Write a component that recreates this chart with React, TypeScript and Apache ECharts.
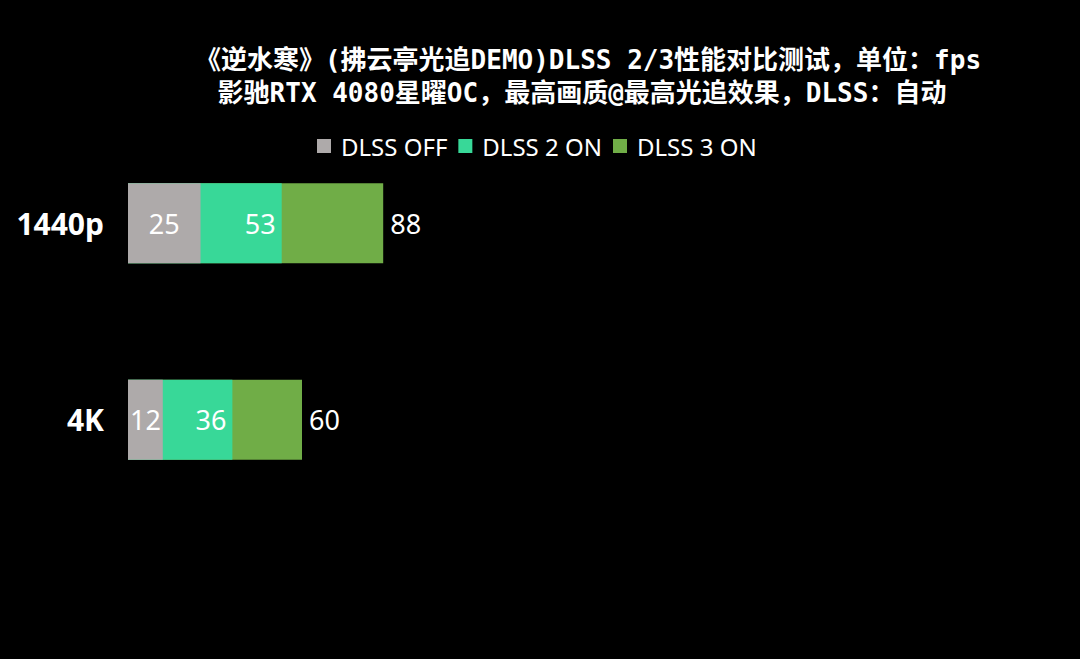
import React, { useEffect, useRef } from "react";
import * as echarts from "echarts";

const titleLine1 = "《逆水寒》(拂云亭光追DEMO)DLSS 2/3性能对比测试，单位：fps";
const titleLine2 = "影驰RTX 4080星曜OC，最高画质@最高光追效果，DLSS：自动";
const categories = ["1440p", "4K"];
const seriesNames = ["DLSS OFF", "DLSS 2 ON", "DLSS 3 ON"];
const dlssOff = [25, 12];
const dlss2 = [53, 36];
const dlss3 = [88, 60];
const colors = ["#AEAAAA", "#38D898", "#70AD47"];

export default function App() {
  const ref = useRef<HTMLDivElement>(null);
  useEffect(() => {
    document.body.style.margin = "0";
    document.body.style.background = "#000";
    const chart = echarts.init(ref.current!, undefined, { renderer: "svg" });
    const titleFont = "'DejaVu Sans Mono', 'Noto Sans CJK SC', sans-serif";
    const labelFont = "'Noto Sans', sans-serif";
    chart.setOption({
      animation: false,
      backgroundColor: "#000000",
      graphic: [
        {
          type: "text",
          x: 588,
          y: 60,
          style: {
            text: titleLine1,
            fill: "#ffffff",
            font: `bold 26px ${titleFont}`,
            textAlign: "center",
            textVerticalAlign: "middle",
          },
        },
        {
          type: "text",
          x: 582,
          y: 93,
          style: {
            text: titleLine2,
            fill: "#ffffff",
            font: `bold 26px ${titleFont}`,
            textAlign: "center",
            textVerticalAlign: "middle",
          },
        },
      ],
      legend: {
        data: seriesNames,
        left: 312,
        top: 129,
        itemWidth: 14,
        itemHeight: 14,
        itemGap: 11,
        icon: "rect",
        textStyle: {
          color: "#ffffff",
          fontSize: 24,
          fontFamily: labelFont,
          padding: [0, 0, 0, 5],
        },
      },
      grid: { left: 128, right: 662, top: 125, bottom: 141 },
      xAxis: {
        type: "value",
        min: 0,
        max: 100,
        show: false,
      },
      yAxis: {
        type: "category",
        data: categories,
        inverse: true,
        axisLine: { show: false },
        axisTick: { show: false },
        axisLabel: {
          color: "#ffffff",
          fontSize: 30,
          fontWeight: "bold",
          fontFamily: labelFont,
          margin: 24,
        },
      },
      series: [
        {
          name: seriesNames[2],
          type: "bar",
          data: dlss3,
          barWidth: 80,
          barGap: "-100%",
          itemStyle: { color: colors[2] },
          label: {
            show: true,
            position: "right",
            distance: 7,
            color: "#ffffff",
            fontSize: 27,
            fontFamily: labelFont,
          },
        },
        {
          name: seriesNames[1],
          type: "bar",
          data: dlss2,
          barWidth: 80,
          barGap: "-100%",
          itemStyle: { color: colors[1] },
          label: {
            show: true,
            position: "insideRight",
            distance: 6,
            color: "#ffffff",
            fontSize: 27,
            fontFamily: labelFont,
          },
        },
        {
          name: seriesNames[0],
          type: "bar",
          data: dlssOff,
          barWidth: 80,
          barGap: "-100%",
          itemStyle: { color: colors[0] },
          label: {
            show: true,
            position: "inside",
            color: "#ffffff",
            fontSize: 27,
            fontFamily: labelFont,
          },
        },
      ],
    });
    return () => chart.dispose();
  }, []);
  return <div ref={ref} style={{ width: 1080, height: 659 }} />;
}
